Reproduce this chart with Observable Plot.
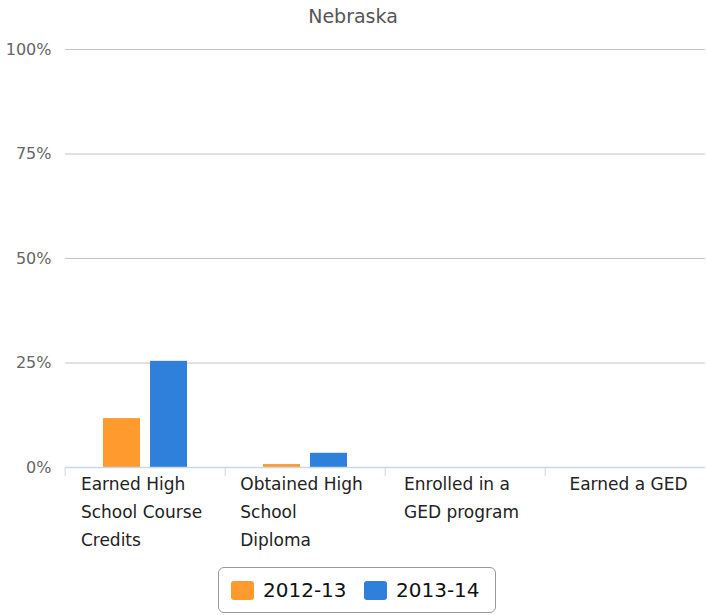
<!DOCTYPE html>
<html>
<head>
<meta charset="utf-8">
<script src="https://cdn.jsdelivr.net/npm/d3@7"></script>
<script src="https://cdn.jsdelivr.net/npm/@observablehq/plot@0.6"></script>
<style>
  html, body { margin: 0; padding: 0; background: #fff; }
  #wrap { position: relative; width: 706px; height: 615px; font-family: "DejaVu Sans", sans-serif; }
  #title { position: absolute; top: 5px; left: 0; width: 706px; text-align: center; font-size: 19px; color: #555; }
  #legend { position: absolute; left: 218px; top: 567px; width: 278px; height: 46px; box-sizing: border-box;
            border: 1px solid #999; border-radius: 6px; }
  .item { position: absolute; top: 10px; display: flex; align-items: center; font-size: 20px; color: #111; }
  .sw { width: 23px; height: 19px; border-radius: 3px; margin-right: 9px; }
  #chart { position: absolute; left: 0; top: 0; }
</style>
</head>
<body>
<div id="wrap">
  <div id="chart"></div>
  <div id="title">Nebraska</div>
  <div id="legend"></div>
</div>
<script>
const categories = ["Earned High School Course Credits", "Obtained High School Diploma", "Enrolled in a GED program", "Earned a GED"];
const categoryLabels = ["Earned High\nSchool Course\nCredits", "Obtained High\nSchool\nDiploma", "Enrolled in a\nGED program", "Earned a GED"];
const years = ["2012-13", "2013-14"];
const values2012 = [11.7, 0.7, 0, 0];
const values2013 = [25.4, 3.4, 0, 0];
const yTicks = [0, 25, 50, 75, 100];
const colors = ["#ff9b2e", "#2f80db"];

const data = categories.flatMap((c, i) => [
  {category: c, year: years[0], value: values2012[i]},
  {category: c, year: years[1], value: values2013[i]}
]);

const ctx = document.createElement("canvas").getContext("2d");
const labelFont = 17;
ctx.font = `${labelFont}px "DejaVu Sans"`;

const W = 706, ML = 63, MR = 0;
const bandW = (W - ML - MR) / categories.length;
const labelShift = [-4, -4, -4, 3];

const labelMarks = categories.map((c, i) => {
  const lines = categoryLabels[i].split("\n");
  const w = Math.max(...lines.map(l => ctx.measureText(l).width));
  return Plot.text([c], {
    fx: d => d,
    text: () => categoryLabels[i],
    frameAnchor: "bottom",
    textAnchor: "start",
    lineAnchor: "top",
    lineHeight: 28 / labelFont,
    dy: 3,
    dx: -w / 2 + labelShift[i],
    fontSize: labelFont,
    fill: "#222"
  });
});

const chart = Plot.plot({
  width: W,
  height: 615,
  marginTop: 49,
  marginBottom: 148,
  marginLeft: ML,
  marginRight: MR,
  style: {fontFamily: '"DejaVu Sans", sans-serif', background: "transparent", overflow: "visible"},
  fx: {domain: categories, padding: 0},
  x: {domain: years, paddingInner: 0.208, paddingOuter: 0.79, axis: null},
  y: {domain: [0, 100], axis: null},
  color: {domain: years, range: colors},
  marks: [
    Plot.gridY(yTicks, {stroke: "#c4c4c4", strokeOpacity: 1}),
    Plot.axisY(yTicks, {tickFormat: d => d + "%", tickSize: 0, tickPadding: 14, fontSize: 16, fill: "#666", label: null}),
    Plot.barY(data, {fx: "category", x: "year", y: "value", fill: "year"}),
    Plot.ruleY([0], {stroke: "#ccd6eb", strokeWidth: 1.5}),
    Plot.axisFx({anchor: "bottom", tickSize: 9, stroke: "#ccd6eb", tickFormat: () => "", dx: -bandW / 2, label: null}),
    ...labelMarks
  ]
});
document.getElementById("chart").appendChild(chart);

const legend = document.getElementById("legend");
const lefts = [12, 145];
years.forEach((y, i) => {
  const it = document.createElement("div");
  it.className = "item";
  it.style.left = lefts[i] + "px";
  it.innerHTML = `<div class="sw" style="background:${colors[i]}"></div><span>${y}</span>`;
  legend.appendChild(it);
});
</script>
</body>
</html>
